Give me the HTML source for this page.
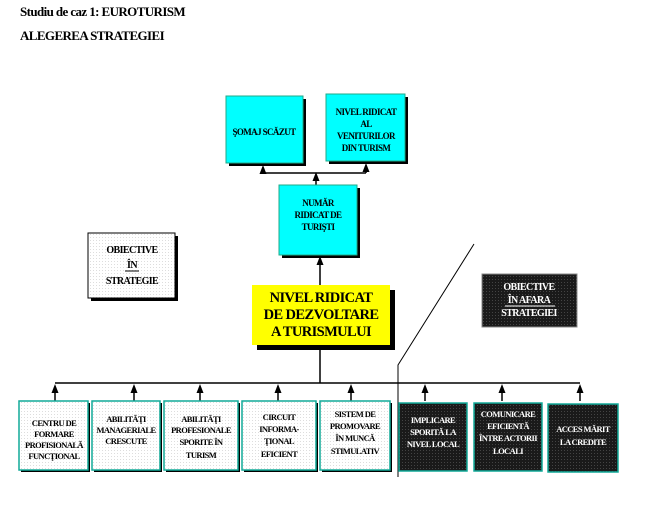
<!DOCTYPE html>
<html><head><meta charset="utf-8"><style>
body{margin:0;background:#fff;}
svg{display:block;}
text{font-family:"Liberation Serif",serif;font-weight:bold;text-anchor:middle;letter-spacing:-0.6px;}
</style></head><body>
<svg width="668" height="507" viewBox="0 0 668 507" xmlns="http://www.w3.org/2000/svg">
<defs>
<pattern id="dots" width="3" height="3" patternUnits="userSpaceOnUse"><rect width="3" height="3" fill="#fff"/><rect width="1" height="1" fill="#ddd"/></pattern>
<pattern id="ddots" width="3" height="3" patternUnits="userSpaceOnUse"><rect width="3" height="3" fill="#1a1a1a"/><rect width="1" height="1" fill="#444"/></pattern>
<polygon id="ar" points="-3.5,9 0,0 3.5,9" fill="#000"/>
</defs>
<text x="20" y="16" style="text-anchor:start;font-size:13px">Studiu de caz 1: EUROTURISM</text>
<text x="20" y="40" style="text-anchor:start;font-size:13px">ALEGEREA STRATEGIEI</text>

<rect x="229" y="99" width="77" height="67" fill="#000"/>
<rect x="226" y="96" width="77" height="67" fill="#00ffff" stroke="#2a8" stroke-width="1"/>
<text x="264" y="135" font-size="9">ŞOMAJ SCĂZUT</text>
<rect x="329" y="97" width="79" height="67" fill="#000"/>
<rect x="326" y="94" width="79" height="67" fill="#00ffff" stroke="#2a8" stroke-width="1"/>
<text x="366" y="115" font-size="9">NIVEL RIDICAT</text>
<text x="366" y="127" font-size="9">AL</text>
<text x="366" y="139" font-size="9">VENITURILOR</text>
<text x="366" y="151" font-size="9">DIN TURISM</text>
<path d="M263,173 H366 M263,173 V168 M366,173 V166 M316,185 V175" stroke="#000" stroke-width="1.5" fill="none"/>
<use href="#ar" x="263" y="165"/>
<use href="#ar" x="366" y="163"/>
<use href="#ar" x="316" y="172"/>

<rect x="282" y="188" width="78" height="70" fill="#000"/>
<rect x="279" y="185" width="78" height="70" fill="#00ffff" stroke="#2a8" stroke-width="1"/>
<text x="318" y="206" font-size="9">NUMĂR</text>
<text x="318" y="218" font-size="9">RIDICAT DE</text>
<text x="318" y="230" font-size="9">TURIŞTI</text>
<path d="M320,285 V262" stroke="#000" stroke-width="1.5"/>
<use href="#ar" x="320" y="256"/>

<rect x="257" y="290" width="138" height="60" fill="#000"/>
<rect x="252" y="285" width="138" height="60" fill="#ffff00"/>
<text x="321" y="302" font-size="14.5">NIVEL RIDICAT</text>
<text x="321" y="319" font-size="14.5">DE DEZVOLTARE</text>
<text x="321" y="336" font-size="14.5">A TURISMULUI</text>

<rect x="91" y="236" width="87" height="65" fill="#000"/>
<rect x="88" y="233" width="87" height="65" fill="url(#dots)" stroke="#000" stroke-width="1"/>
<text x="132" y="253" font-size="10">OBIECTIVE</text>
<text x="132" y="268" font-size="10">ÎN</text>
<path d="M125,271 H139" stroke="#000"/>
<text x="132" y="284" font-size="10">STRATEGIE</text>

<rect x="482" y="274" width="95" height="53" fill="url(#ddots)" stroke="#888" stroke-width="1"/>
<text x="529" y="290" font-size="10" fill="#fff">OBIECTIVE</text>
<text x="529" y="303" font-size="10" fill="#fff">ÎN AFARA</text>
<path d="M505,306 H555" stroke="#fff"/>
<text x="529" y="316" font-size="10" fill="#fff">STRATEGIEI</text>

<path d="M474,244 L398,365 V477" stroke="#000" stroke-width="1" fill="none"/>

<path d="M320,345 V383 M55,383 H580" stroke="#000" stroke-width="1.5" fill="none"/>
<g stroke="#000" stroke-width="1.5">
<path d="M55,401 V390 M134,401 V390 M200,401 V390 M278,401 V390 M351,401 V390 M425,401 V390 M502,401 V390 M580,401 V390"/>
</g>
<use href="#ar" x="55" y="384"/>
<use href="#ar" x="134" y="384"/>
<use href="#ar" x="200" y="384"/>
<use href="#ar" x="278" y="384"/>
<use href="#ar" x="351" y="384"/>
<use href="#ar" x="425" y="384"/>
<use href="#ar" x="502" y="384"/>
<use href="#ar" x="580" y="384"/>

<g stroke="#1a9" stroke-width="1.5">
<rect x="21" y="403" width="69" height="69" fill="#000" stroke="none"/>
<rect x="19" y="401" width="69" height="69" fill="url(#dots)"/>
<rect x="94" y="403" width="68" height="69" fill="#000" stroke="none"/>
<rect x="92" y="401" width="68" height="69" fill="url(#dots)"/>
<rect x="166" y="403" width="74" height="69" fill="#000" stroke="none"/>
<rect x="164" y="401" width="74" height="69" fill="url(#dots)"/>
<rect x="244" y="403" width="74" height="69" fill="#000" stroke="none"/>
<rect x="242" y="401" width="74" height="69" fill="url(#dots)"/>
<rect x="322" y="403" width="70" height="69" fill="#000" stroke="none"/>
<rect x="320" y="401" width="70" height="69" fill="url(#dots)"/>
<rect x="399" y="403" width="68" height="68" fill="url(#ddots)"/>
<rect x="474" y="403" width="68" height="68" fill="url(#ddots)"/>
<rect x="548" y="404" width="70" height="68" fill="url(#ddots)"/>
</g>
<g font-size="8.5">
<text x="54" y="426">CENTRU DE</text>
<text x="54" y="437">FORMARE</text>
<text x="54" y="448">PROFISIONALĂ</text>
<text x="54" y="459">FUNCŢIONAL</text>
<text x="126" y="422">ABILITĂŢI</text>
<text x="126" y="433">MANAGERIALE</text>
<text x="126" y="444">CRESCUTE</text>
<text x="201" y="422">ABILITĂŢI</text>
<text x="201" y="433">PROFESIONALE</text>
<text x="201" y="445">SPORITE ÎN</text>
<text x="201" y="458">TURISM</text>
<text x="279" y="420">CIRCUIT</text>
<text x="279" y="432">INFORMA-</text>
<text x="279" y="444">ŢIONAL</text>
<text x="279" y="457">EFICIENT</text>
<text x="355" y="417">SISTEM DE</text>
<text x="355" y="429">PROMOVARE</text>
<text x="355" y="441">ÎN MUNCĂ</text>
<text x="355" y="454">STIMULATIV</text>
<g fill="#fff">
<text x="433" y="423">IMPLICARE</text>
<text x="433" y="435">SPORITĂ LA</text>
<text x="433" y="447">NIVEL LOCAL</text>
<text x="508" y="417">COMUNICARE</text>
<text x="508" y="429">EFICIENTĂ</text>
<text x="508" y="441">ÎNTRE ACTORII</text>
<text x="508" y="454">LOCALI</text>
<text x="583" y="432">ACCES MĂRIT</text>
<text x="583" y="445">LA CREDITE</text>
</g>
</g>
</svg>
</body></html>
